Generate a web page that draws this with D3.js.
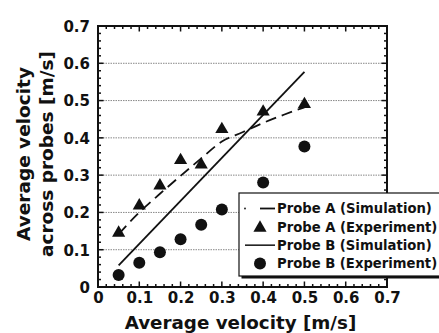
<!DOCTYPE html>
<html>
<head>
<meta charset="utf-8">
<script src="https://cdn.jsdelivr.net/npm/d3@7"></script>
<style>
  body { margin: 0; background: #fff; }
  text { font-family: "DejaVu Sans", "Liberation Sans", Arial, sans-serif; font-weight: bold; fill: #111; }
</style>
</head>
<body>
<div id="chart"></div>
<script>
// data
const expX = [0.05, 0.1, 0.15, 0.2, 0.25, 0.3, 0.4, 0.5];
const probeAExp = [0.145, 0.218, 0.272, 0.34, 0.328, 0.423, 0.47, 0.49];
const probeBExp = [0.032, 0.065, 0.093, 0.128, 0.167, 0.208, 0.28, 0.377];
const simAX = [0.05, 0.1, 0.15, 0.2, 0.25, 0.3, 0.35, 0.4, 0.45, 0.5];
const probeASim = [0.142, 0.2, 0.25, 0.298, 0.345, 0.39, 0.415, 0.44, 0.462, 0.482];
const simBX = [0.05, 0.5];
const probeBSim = [0.058, 0.577];
const xTicks = [0, 0.1, 0.2, 0.3, 0.4, 0.5, 0.6, 0.7];
const yTicks = [0, 0.1, 0.2, 0.3, 0.4, 0.5, 0.6, 0.7];
const legendLabels = ["Probe A (Simulation)", "Probe A (Experiment)", "Probe B (Simulation)", "Probe B (Experiment)"];

const width = 439, height = 333;
const margin = {top: 26, right: 52, bottom: 46, left: 98};
const w = width - margin.left - margin.right,
    h = height - margin.top - margin.bottom;

const svg = d3.select('#chart').append('svg')
    .attr('width', width)
    .attr('height', height);

const g = svg.append('g')
    .attr('transform', 'translate(' + margin.left + ',' + margin.top + ')');

const x = d3.scaleLinear().domain([0, 0.7]).range([0, w]);
const y = d3.scaleLinear().domain([0, 0.7]).range([h, 0]);

// dotted gridlines
g.selectAll('.grid')
    .data(yTicks.filter(d => d > 0 && d < 0.7))
    .enter().append('line')
    .attr('x1', 0).attr('x2', w)
    .attr('y1', d => y(d)).attr('y2', d => y(d))
    .attr('stroke', '#888')
    .attr('stroke-width', 1)
    .attr('stroke-dasharray', '1.5,1');

// minor ticks every 0.02
const minor = d3.range(0, 0.701, 0.02).map(d => +d.toFixed(2));
const isMajor = d => Math.abs(d * 10 - Math.round(d * 10)) < 1e-6;

const tickG = g.append('g');
minor.forEach(d => {
    const len = isMajor(d) ? 5.5 : 3;
    tickG.append('line').attr('x1', x(d)).attr('x2', x(d)).attr('y1', h).attr('y2', h - len);
    tickG.append('line').attr('x1', x(d)).attr('x2', x(d)).attr('y1', 0).attr('y2', len);
    tickG.append('line').attr('y1', y(d)).attr('y2', y(d)).attr('x1', 0).attr('x2', len);
    tickG.append('line').attr('y1', y(d)).attr('y2', y(d)).attr('x1', w).attr('x2', w - len);
});
tickG.selectAll('line').attr('stroke', '#111').attr('stroke-width', 1.5);

// frame
g.append('rect')
    .attr('width', w).attr('height', h)
    .attr('fill', 'none')
    .attr('stroke', '#111')
    .attr('stroke-width', 2);

// tick labels via axes (no tick lines)
const xAxis = g.append('g')
    .attr('transform', 'translate(0,' + h + ')')
    .call(d3.axisBottom(x).tickValues(xTicks).tickSize(0).tickPadding(5)
        .tickFormat(d => d === 0 ? '0' : d3.format('.1f')(d)));
const yAxis = g.append('g')
    .call(d3.axisLeft(y).tickValues(yTicks).tickSize(0).tickPadding(8)
        .tickFormat(d => d === 0 ? '0' : d3.format('.1f')(d)));
[xAxis, yAxis].forEach(a => {
    a.select('.domain').remove();
    a.selectAll('text').attr('font-size', 15).attr('font-family', '"DejaVu Sans", sans-serif')
        .attr('font-weight', 'bold').attr('fill', '#111');
});
yAxis.selectAll('text').attr('dy', '0.36em');

// axis titles
svg.append('text')
    .attr('x', margin.left + w / 2 - 2)
    .attr('y', 329)
    .attr('text-anchor', 'middle')
    .attr('font-size', 18.3)
    .text('Average velocity [m/s]');

const yTitle = svg.append('text')
    .attr('transform', 'translate(0,154) rotate(-90)')
    .attr('text-anchor', 'middle')
    .attr('font-size', 18.5);
yTitle.append('tspan').attr('x', 0).attr('y', 30).text('Average velocity');
yTitle.append('tspan').attr('x', 0).attr('y', 53).text('across probes [m/s]');

// lines
const line = d3.line().x(d => x(d[0])).y(d => y(d[1]));

g.append('path')
    .datum(simAX.map((v, i) => [v, probeASim[i]]))
    .attr('d', d3.line().x(d => x(d[0])).y(d => y(d[1])).curve(d3.curveMonotoneX))
    .attr('fill', 'none')
    .attr('stroke', '#111')
    .attr('stroke-width', 1.8)
    .attr('stroke-dasharray', '11,6');

g.append('path')
    .datum(simBX.map((v, i) => [v, probeBSim[i]]))
    .attr('d', line)
    .attr('fill', 'none')
    .attr('stroke', '#111')
    .attr('stroke-width', 1.8);

// markers
const tri = d3.symbol().type(d3.symbolTriangle).size(75);
g.selectAll('.triA')
    .data(expX.map((v, i) => [v, probeAExp[i]]))
    .enter().append('path')
    .attr('d', tri)
    .attr('transform', d => 'translate(' + x(d[0]) + ',' + y(d[1]) + ')')
    .attr('fill', '#111');

g.selectAll('.dotB')
    .data(expX.map((v, i) => [v, probeBExp[i]]))
    .enter().append('circle')
    .attr('cx', d => x(d[0]))
    .attr('cy', d => y(d[1]))
    .attr('r', 6)
    .attr('fill', '#111');

// legend
const lg = svg.append('g').attr('transform', 'translate(239,193)');
const lw = 203, lh = 83;
lg.append('rect').attr('x', 2.5).attr('y', 2.5).attr('width', lw).attr('height', lh).attr('fill', '#111');
lg.append('rect').attr('width', lw).attr('height', lh).attr('fill', '#fff').attr('stroke', '#111').attr('stroke-width', 1.2);

const rowY = d3.scaleLinear().domain([0, 3]).range([15.5, 70.5]);
legendLabels.forEach((lab, i) => {
    lg.append('text')
        .attr('x', 38)
        .attr('y', rowY(i))
        .attr('dy', '0.36em')
        .attr('font-size', 13.2)
        .text(lab);
});
// sample marks
lg.append('circle').attr('cx', 6).attr('cy', rowY(0)).attr('r', 0.9).attr('fill', '#111');
lg.append('line').attr('x1', 21).attr('x2', 36).attr('y1', rowY(0)).attr('y2', rowY(0))
    .attr('stroke', '#111').attr('stroke-width', 1.8);
lg.append('path').attr('d', tri).attr('transform', 'translate(21,' + (rowY(1) + 1) + ')').attr('fill', '#111');
lg.append('line').attr('x1', 6).attr('x2', 36).attr('y1', rowY(2)).attr('y2', rowY(2))
    .attr('stroke', '#111').attr('stroke-width', 1.5);
lg.append('circle').attr('cx', 21).attr('cy', rowY(3)).attr('r', 6).attr('fill', '#111');
</script>
</body>
</html>
